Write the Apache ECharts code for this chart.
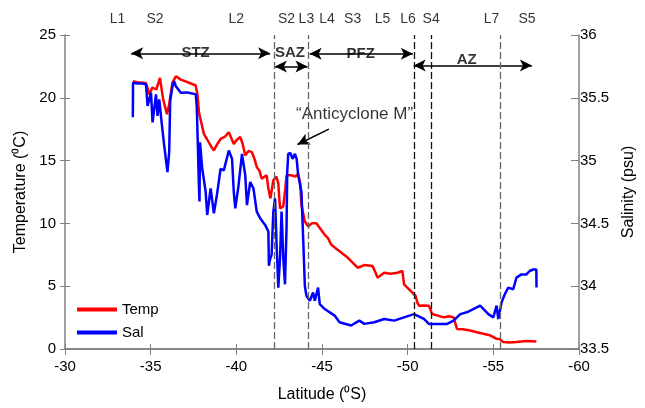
<!DOCTYPE html>
<html>
<head>
<meta charset="utf-8">
<script src="https://cdn.jsdelivr.net/npm/echarts@6/dist/echarts.min.js"></script>
<style>html,body{margin:0;padding:0;background:#fff}#c{width:645px;height:408px}</style>
</head>
<body>
<div id="c"></div>
<script>
// Temperature (°C) vs latitude
var tempLat = [-33.96,-34.34,-34.73,-34.92,-35.10,-35.33,-35.54,-35.73,-35.95,-36.08,-36.27,-36.47,-36.76,-37.07,-37.34,-37.63,-37.73,-37.82,-37.93,-38.11,-38.28,-38.51,-38.69,-38.86,-39.08,-39.32,-39.56,-39.73,-39.85,-40.02,-40.23,-40.37,-40.52,-40.71,-40.91,-41.06,-41.19,-41.35,-41.48,-41.64,-41.77,-41.87,-41.99,-42.16,-42.34,-42.45,-42.55,-42.74,-42.86,-42.93,-43.22,-43.44,-43.61,-43.73,-43.80,-43.90,-44.00,-44.19,-44.42,-44.67,-44.88,-45.16,-45.35,-45.54,-45.93,-46.51,-46.80,-47.08,-47.47,-47.95,-48.13,-48.24,-48.63,-49.00,-49.40,-49.69,-49.79,-49.98,-50.17,-50.46,-50.56,-50.66,-50.91,-51.24,-51.43,-51.72,-52.11,-52.42,-52.68,-52.88,-53.22,-53.65,-54.03,-54.42,-54.79,-55.19,-55.37,-55.58,-55.95,-56.35,-56.93,-57.51];
var tempVal = [21.32,21.21,21.17,20.27,20.82,20.66,21.59,19.87,18.69,19.48,21.21,21.71,21.45,21.29,21.14,20.98,20.27,18.83,18.69,17.11,16.72,16.17,15.80,16.25,16.72,16.88,17.25,16.72,16.32,16.64,16.88,16.32,15.40,15.77,15.67,15.14,14.49,14.20,13.56,13.72,13.83,12.78,11.99,13.43,13.72,13.17,11.20,11.36,12.78,13.83,13.83,13.72,13.96,13.17,11.46,10.80,10.15,9.76,10.02,10.02,9.62,9.09,8.83,8.30,7.89,7.26,6.86,6.47,6.68,6.60,6.07,5.68,6.07,5.99,6.07,6.21,5.15,4.89,4.63,4.24,3.71,3.45,3.47,3.45,2.78,2.68,2.52,2.60,2.52,1.60,1.58,1.47,1.34,1.21,1.10,0.81,0.79,0.55,0.51,0.55,0.63,0.59];
// Salinity (psu) vs latitude
var salLat = [-33.96,-33.97,-34.23,-34.52,-34.73,-34.82,-34.92,-35.02,-35.11,-35.31,-35.40,-35.50,-35.64,-35.79,-35.98,-36.08,-36.14,-36.27,-36.37,-36.47,-36.76,-37.12,-37.41,-37.63,-37.69,-37.76,-37.82,-37.85,-37.88,-38.01,-38.21,-38.30,-38.50,-38.69,-38.88,-39.08,-39.27,-39.56,-39.75,-39.85,-39.94,-40.13,-40.33,-40.52,-40.62,-40.81,-41.00,-41.19,-41.39,-41.68,-41.87,-41.90,-41.96,-42.06,-42.16,-42.26,-42.35,-42.45,-42.55,-42.64,-42.74,-42.84,-42.93,-42.97,-43.03,-43.15,-43.28,-43.42,-43.52,-43.61,-43.80,-43.90,-44.00,-44.09,-44.29,-44.48,-44.58,-44.77,-44.87,-45.16,-45.74,-46.02,-46.70,-47.18,-47.47,-48.05,-48.63,-49.21,-49.79,-50.37,-50.95,-51.24,-51.72,-52.30,-52.68,-53.07,-53.45,-54.03,-54.23,-54.71,-55.00,-55.19,-55.29,-55.48,-55.67,-55.87,-56.16,-56.35,-56.64,-56.93,-57.12,-57.32,-57.51,-57.52];
var salVal = [35.345,35.619,35.614,35.614,35.606,35.435,35.487,35.540,35.304,35.527,35.356,35.487,35.304,35.119,34.909,35.067,35.474,35.592,35.632,35.592,35.540,35.543,35.535,35.527,35.435,35.093,34.778,34.675,35.146,34.935,34.752,34.567,34.778,34.580,34.738,34.935,34.922,35.080,35.014,34.752,34.620,34.804,35.054,34.883,34.646,34.830,34.778,34.594,34.541,34.488,34.436,34.162,34.210,34.252,34.594,34.699,34.330,33.989,34.226,34.594,34.226,34.015,34.462,34.909,35.054,35.062,35.014,35.054,35.014,34.883,34.752,34.383,34.002,33.923,33.884,33.950,33.884,33.989,33.857,33.818,33.766,33.713,33.687,33.726,33.700,33.713,33.739,33.726,33.752,33.778,33.739,33.700,33.700,33.700,33.726,33.778,33.792,33.831,33.845,33.778,33.752,33.845,33.739,33.871,33.936,33.989,33.976,34.068,34.094,34.094,34.121,34.133,34.133,33.989];
// Stations along the top
var stationNames = ['L1','S2','L2','S2','L3','L4','S3','L5','L6','S4','L7','S5'];
var stationLat = [-33.07,-35.25,-40.00,-42.93,-44.09,-45.29,-46.79,-48.53,-50.02,-51.37,-54.90,-56.97];
// Front positions (dashed lines)
var frontLat = [-42.2,-44.17,-50.4,-51.37,-55.42];
// Zone labels
var zoneNames = ['STZ','SAZ','PFZ','AZ'];
var zoneLat = [-37.62,-43.13,-47.26,-53.45];
var zoneT = [23.58,23.58,23.5,23.03];
// Zone arrows [fromLat, toLat, T]
var zoneArrowFrom = [-33.86,-42.25,-44.28,-50.35];
var zoneArrowTo = [-41.97,-44.15,-50.3,-57.25];
var zoneArrowT = [23.54,22.5,23.5,22.58];

var FONT = 'Liberation Sans, Arial, sans-serif';
var chart = echarts.init(document.getElementById('c'));

var stationData = stationNames.map(function(n,i){return {name:n, value:[stationLat[i], 26.3]};});
var zoneData = zoneNames.map(function(n,i){return {name:n, value:[zoneLat[i], zoneT[i]]};});

var frontLines = frontLat.map(function(v,i){
  var dark = (i===2||i===3);
  return {xAxis:v, lineStyle:{type:[7,3], color: dark?'#111':'#666', width:1.3}};
});
var arrowLines = [];
zoneArrowFrom.forEach(function(f,i){
  arrowLines.push([{coord:[f, zoneArrowT[i]], symbol:'arrow', symbolSize:[9,12]},
                   {coord:[zoneArrowTo[i], zoneArrowT[i]], symbol:'arrow', symbolSize:[9,12]}]);
});
// annotation arrow for the anticyclone
arrowLines.push([{coord:[-45.40,17.51], symbol:'none'},{coord:[-43.57,16.28], symbol:'arrow', symbolSize:[9,12]}]);

var commonAxisLine = {show:true, lineStyle:{color:'#808080', width:1.5}};

chart.setOption({
  animation:false,
  backgroundColor:'#fff',
  grid:{left:65, right:62, top:35, bottom:56, containLabel:false},
  legend:{
    orient:'vertical', left:72, top:297, itemWidth:40, itemHeight:4, itemGap:8,
    icon:'rect',
    textStyle:{fontFamily:FONT, fontSize:15, color:'#000'},
    data:['Temp','Sal']
  },
  xAxis:[
    {type:'value', min:-60, max:-30, interval:5, inverse:true, position:'bottom',
     axisLine:commonAxisLine, axisTick:{show:true, inside:true, length:5, lineStyle:{color:'#808080'}},
     axisLabel:{fontFamily:FONT, fontSize:15, color:'#000', margin:10},
     splitLine:{show:false},
     name:'Latitude (\u2070S)', nameLocation:'middle', nameGap:38,
     nameTextStyle:{fontFamily:FONT, fontSize:16, color:'#000'}},
    {type:'value', min:-60, max:-30, interval:5, inverse:true, position:'top',
     axisLine:commonAxisLine, axisTick:{show:true, inside:true, length:6, lineStyle:{color:'#808080'}},
     axisLabel:{show:false}, splitLine:{show:false}},
    {type:'value', min:-60, max:-30, interval:5, inverse:true, position:'bottom',
     axisLine:{show:false}, axisTick:{show:true, inside:false, length:5, lineStyle:{color:'#808080'}},
     axisLabel:{show:false}, splitLine:{show:false}}
  ],
  yAxis:[
    {type:'value', min:0, max:25, interval:5, position:'left',
     axisLine:commonAxisLine, axisTick:{show:true, inside:false, length:5, lineStyle:{color:'#808080'}},
     axisLabel:{fontFamily:FONT, fontSize:15, color:'#000', margin:9},
     splitLine:{show:false},
     name:'Temperature (\u2070C)', nameLocation:'middle', nameGap:31, nameRotate:90,
     nameTextStyle:{fontFamily:FONT, fontSize:16, color:'#000'}},
    {type:'value', min:33.5, max:36, interval:0.5, position:'right',
     axisLine:commonAxisLine, axisTick:{show:true, inside:true, length:8, lineStyle:{color:'#808080'}},
     axisLabel:{fontFamily:FONT, fontSize:15, color:'#000', margin:1},
     splitLine:{show:false},
     name:'Salinity (psu)', nameLocation:'middle', nameGap:42, nameRotate:90,
     nameTextStyle:{fontFamily:FONT, fontSize:16, color:'#000'}},
    {type:'value', min:0, max:25, interval:5, position:'left',
     axisLine:{show:false}, axisTick:{show:true, inside:true, length:5, lineStyle:{color:'#808080'}},
     axisLabel:{show:false}, splitLine:{show:false}}
  ],
  series:[
    {name:'Temp', type:'line', xAxisIndex:0, yAxisIndex:0, showSymbol:false, symbol:'none',
     lineStyle:{color:'#ff0000', width:2.5}, itemStyle:{color:'#ff0000'}, z:3,
     data: tempLat.map(function(x,i){return [x, tempVal[i]];}),
     markLine:{silent:true, animation:false, label:{show:false}, symbol:['none','none'],
       lineStyle:{color:'#000', width:1.5, type:'solid'}, data: arrowLines}},
    {name:'Sal', type:'line', xAxisIndex:0, yAxisIndex:1, showSymbol:false, symbol:'none',
     lineStyle:{color:'#0000ff', width:2.5}, itemStyle:{color:'#0000ff'}, z:4,
     data: salLat.map(function(x,i){return [x, salVal[i]];}),
     markLine:{silent:true, animation:false, label:{show:false}, symbol:['none','none'],
       data: frontLines}},
    {name:'stations', type:'scatter', xAxisIndex:0, yAxisIndex:0, symbolSize:0, clip:false, silent:true,
     label:{show:true, position:'inside', formatter:'{b}', fontFamily:FONT, fontSize:14, color:'#000'},
     data: stationData},
    {name:'zones', type:'scatter', xAxisIndex:0, yAxisIndex:0, symbolSize:0, clip:false, silent:true, z:6,
     label:{show:true, position:'inside', formatter:'{b}', fontFamily:FONT, fontSize:15, fontWeight:'bold', color:'#000'},
     data: zoneData},
    {name:'anno', type:'scatter', xAxisIndex:0, yAxisIndex:0, symbolSize:0, clip:false, silent:true,
     label:{show:true, position:'inside', formatter:'{b}', fontFamily:FONT, fontSize:17, color:'#000'},
     data:[{name:'\u201cAnticyclone M\u201d', value:[-46.9, 18.7]}]}
  ]
});
</script>
</body>
</html>
